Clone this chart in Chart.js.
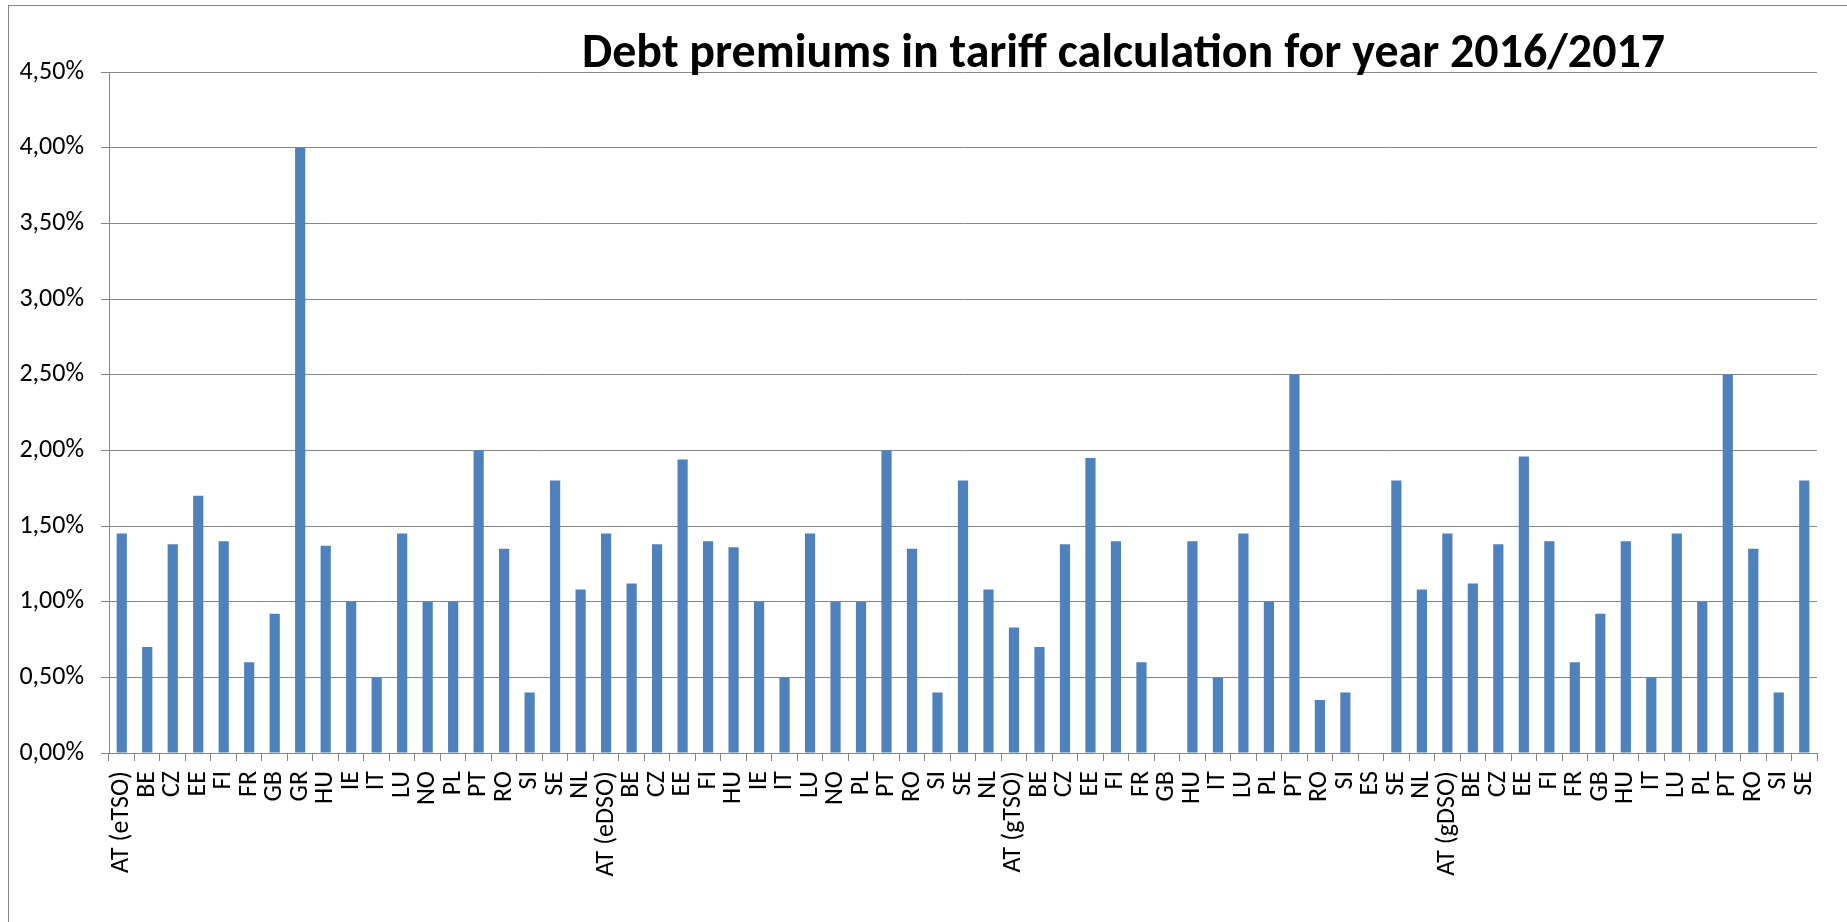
<!DOCTYPE html>
<html>
<head>
<meta charset="utf-8">
<script src="https://cdn.jsdelivr.net/npm/chart.js@4/dist/chart.umd.min.js"></script>
<style>
  html, body { margin: 0; padding: 0; background: #ffffff; }
  #wrap { position: relative; width: 1847px; height: 922px; }
  canvas { display: block; }
</style>
</head>
<body>
<div id="wrap"><canvas id="chart" width="1847" height="922"></canvas></div>
<script>
// Category labels: four regulator groups (electricity TSO/DSO, gas TSO/DSO)
const categories = [
  'AT (eTSO)', 'BE', 'CZ', 'EE', 'FI', 'FR', 'GB', 'GR', 'HU', 'IE', 'IT', 'LU', 'NO', 'PL', 'PT', 'RO', 'SI', 'SE', 'NL',
  'AT (eDSO)', 'BE', 'CZ', 'EE', 'FI', 'HU', 'IE', 'IT', 'LU', 'NO', 'PL', 'PT', 'RO', 'SI', 'SE', 'NL',
  'AT (gTSO)', 'BE', 'CZ', 'EE', 'FI', 'FR', 'GB', 'HU', 'IT', 'LU', 'PL', 'PT', 'RO', 'SI', 'ES', 'SE', 'NL',
  'AT (gDSO)', 'BE', 'CZ', 'EE', 'FI', 'FR', 'GB', 'HU', 'IT', 'LU', 'PL', 'PT', 'RO', 'SI', 'SE'
];

// Debt premium in percent, in the same order as the categories
const eTSO = [1.45, 0.70, 1.38, 1.70, 1.40, 0.60, 0.92, 4.00, 1.37, 1.00, 0.50, 1.45, 1.00, 1.00, 2.00, 1.35, 0.40, 1.80, 1.08];
const eDSO = [1.45, 1.12, 1.38, 1.94, 1.40, 1.36, 1.00, 0.50, 1.45, 1.00, 1.00, 2.00, 1.35, 0.40, 1.80, 1.08];
const gTSO = [0.83, 0.70, 1.38, 1.95, 1.40, 0.60, 0, 1.40, 0.50, 1.45, 1.00, 2.50, 0.35, 0.40, 0, 1.80, 1.08];
const gDSO = [1.45, 1.12, 1.38, 1.96, 1.40, 0.60, 0.92, 1.40, 0.50, 1.45, 1.00, 2.50, 1.35, 0.40, 1.80];

const premiums = [...eTSO, ...eDSO, ...gTSO, ...gDSO];

const yTicks = { min: 0, max: 4.5, step: 0.5 };

const titleText = 'Debt premiums in tariff calculation for year 2016/2017';
const fontFamily = 'Carlito, Lato, "Open Sans", sans-serif';
const gridGray = '#868686';

// White background plus the thin outer frame of the chart object
const framePlugin = {
  id: 'frame',
  beforeDraw(chart) {
    const ctx = chart.ctx;
    ctx.save();
    ctx.fillStyle = '#ffffff';
    ctx.fillRect(0, 0, chart.width, chart.height);
    ctx.strokeStyle = gridGray;
    ctx.lineWidth = 1;
    ctx.strokeRect(8.5, 5.5, chart.width + 20, chart.height + 20);
    ctx.restore();
  }
};

// Bold title, set above the plot and sized to its span
const titlePlugin = {
  id: 'bigTitle',
  afterDraw(chart) {
    const ctx = chart.ctx;
    ctx.save();
    const targetWidth = 1083;
    ctx.font = 'bold 40px ' + fontFamily;
    const w = ctx.measureText(titleText).width;
    const size = 40 * targetWidth / w;
    ctx.font = 'bold ' + size.toFixed(2) + 'px ' + fontFamily;
    ctx.fillStyle = '#000000';
    ctx.textAlign = 'left';
    ctx.textBaseline = 'alphabetic';
    ctx.fillText(titleText, 582, 67);
    ctx.restore();
  }
};

new Chart(document.getElementById('chart'), {
  type: 'bar',
  data: {
    labels: categories,
    datasets: [{
      data: premiums,
      backgroundColor: '#4F81BD',
      borderWidth: 0,
      barPercentage: 0.4,
      categoryPercentage: 1.0
    }]
  },
  options: {
    responsive: false,
    devicePixelRatio: 1,
    animation: false,
    layout: { padding: { top: 72, right: 30, left: 0, bottom: 0 } },
    plugins: {
      legend: { display: false },
      tooltip: { enabled: false },
      title: { display: false }
    },
    scales: {
      x: {
        afterFit(scale) { scale.height = 169; },
        ticks: {
          autoSkip: false,
          minRotation: 90,
          maxRotation: 90,
          padding: 10,
          color: '#000000',
          font: { family: fontFamily, size: 26 }
        },
        grid: {
          offset: true,
          drawOnChartArea: false,
          drawTicks: true,
          tickLength: 8,
          color: gridGray,
          lineWidth: 1
        },
        border: { display: true, color: gridGray, width: 1 }
      },
      y: {
        min: yTicks.min,
        max: yTicks.max,
        afterFit(scale) { scale.width = 109; },
        ticks: {
          stepSize: yTicks.step,
          padding: 17,
          color: '#000000',
          font: { family: fontFamily, size: 26 },
          callback: v => v.toFixed(2).replace('.', ',') + '%'
        },
        grid: {
          color: gridGray,
          lineWidth: 1,
          tickLength: 8,
          drawTicks: true
        },
        border: { display: true, color: gridGray, width: 1 }
      }
    }
  },
  plugins: [framePlugin, titlePlugin]
});
</script>
</body>
</html>
